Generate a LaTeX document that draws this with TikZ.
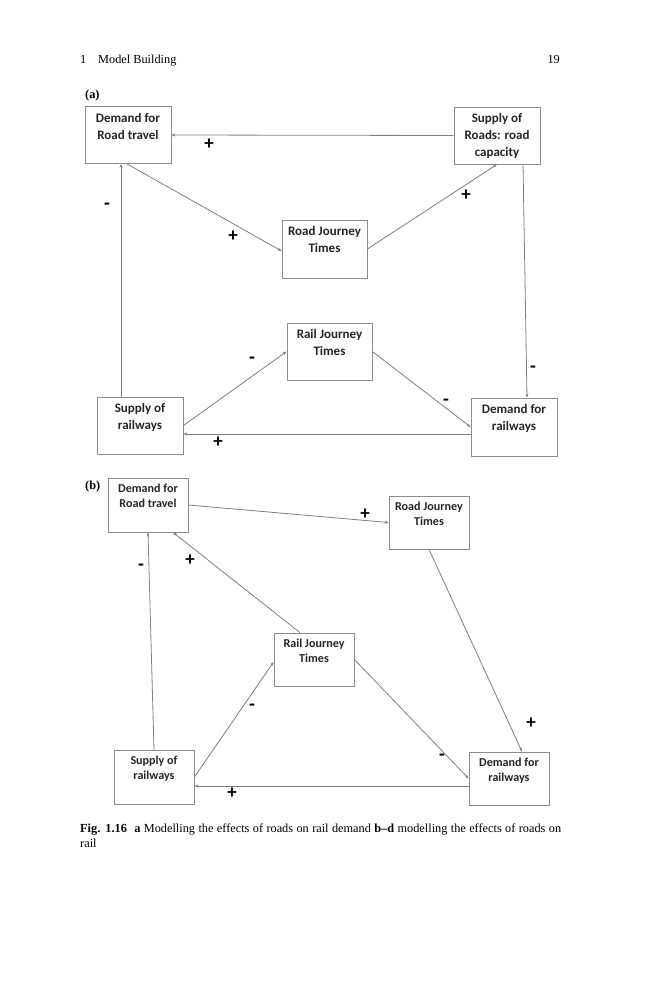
\documentclass[tikz,border=0pt]{standalone}
\usepackage{fontspec}
\setmainfont{Liberation Serif}
\newfontfamily\boxfont{Carlito}
\usetikzlibrary{arrows.meta,calc}
\tikzset{
  boxa/.style={draw=black!45, line width=0.8pt, minimum width=86pt, minimum height=57pt, inner sep=0pt},
  boxb/.style={draw=black!45, line width=0.8pt, minimum width=80pt, minimum height=54pt, inner sep=0pt},
  txta/.style={anchor=north, inner sep=0pt, align=center, text=black!85, font=\boxfont\bfseries\fontsize{13}{17}\selectfont},
  txtb/.style={anchor=north, inner sep=0pt, align=center, text=black!85, font=\boxfont\bfseries\fontsize{12.1}{15}\selectfont},
  conn/.style={draw=black!50, line width=0.8pt, -{Stealth[length=4pt,width=3pt]}},
  sgn/.style={inner sep=0pt, font=\boxfont\bfseries\fontsize{19}{19}\selectfont},
  hdr/.style={inner sep=0pt, anchor=base west, font=\fontsize{12.3}{14}\selectfont},
}
\begin{document}
\begin{tikzpicture}[x=1pt,y=-1pt]
\useasboundingbox[fill=white] (0,0) rectangle (659,1000);
% header
\node[hdr] (h1) at (80,64) {1};
\node[hdr] (h2) at (98,64) {Model Building};
\node[hdr, anchor=base east] (h3) at (560,64) {19};
\node[hdr, font=\bfseries\fontsize{12.3}{14}\selectfont] (pa) at (85,99) {(a)};
% ---------- panel a ----------
\node[boxa] (adr) at (128,135) {};
\node[txta] (tadr) at ([yshift=-7pt]adr.north) {Demand for\\Road travel};
\node[boxa] (asr) at (497,135.5) {};
\node[txta] (tasr) at ([yshift=-7pt]asr.north) {Supply of\\Roads: road\\capacity};
\node[boxa, minimum width=85pt, minimum height=58pt] (arj) at (324.5,249) {};
\node[txta] (tarj) at ([yshift=-7pt]arj.north) {Road Journey\\Times};
\node[boxa, minimum width=85pt] (arl) at (329.5,351.5) {};
\node[txta] (tarl) at ([yshift=-7pt]arl.north) {Rail Journey\\Times};
\node[boxa] (asw) at (140,425.5) {};
\node[txta] (tasw) at ([yshift=-7pt]asw.north) {Supply of\\railways};
\node[boxa, minimum height=58pt] (adw) at (514,427) {};
\node[txta] (tadw) at ([yshift=-7pt]adw.north) {Demand for\\railways};

\draw[conn] (asr.west) -- (adr.east);
\draw[conn] ([xshift=-1pt]adr.south) -- ([yshift=-2pt]arj.west);
\draw[conn] (arj.east) -- (asr.south);
\draw[conn] ([xshift=26pt]asr.south) -- ([xshift=13pt]adw.north);
\draw[conn] ([xshift=-19pt]asw.north) -- ([xshift=-7pt]adr.south);
\draw[conn] (asw.east) -- (arl.west);
\draw[conn] (arl.east) -- (adw.west);
\draw[conn] ([yshift=-7pt]adw.west) -- ([yshift=-8.5pt]asw.east);

\node[sgn] (a1) at (209,144) {+};
\node[sgn] (a2) at (233,236) {+};
\node[sgn] (a3) at (466,195) {+};
\node[sgn] (a4) at (533,369) {-};
\node[sgn] (a5) at (107,206) {-};
\node[sgn] (a6) at (252,360) {-};
\node[sgn] (a7) at (446,402) {-};
\node[sgn] (a8) at (218,442) {+};

% ---------- panel b ----------
\node[hdr, font=\bfseries\fontsize{12.3}{14}\selectfont] (pb) at (85,489) {(b)};
\node[boxb] (bdr) at (148,505) {};
\node[txtb] (tbdr) at ([yshift=-6pt]bdr.north) {Demand for\\Road travel};
\node[boxb, minimum height=53pt] (brj) at (429,522.5) {};
\node[txtb] (tbrj) at ([yshift=-6pt]brj.north) {Road Journey\\Times};
\node[boxb, minimum height=53pt] (brl) at (314,659.5) {};
\node[txtb] (tbrl) at ([yshift=-6pt]brl.north) {Rail Journey\\Times};
\node[boxb] (bsw) at (154,777) {};
\node[txtb] (tbsw) at ([yshift=-6pt]bsw.north) {Supply of\\railways};
\node[boxb, minimum height=53pt] (bdw) at (509,778.5) {};
\node[txtb] (tbdw) at ([yshift=-6pt]bdw.north) {Demand for\\railways};

\draw[conn] (bdr.east) -- (brj.west);
\draw[conn] ([xshift=-14pt]brl.north) -- ([xshift=25pt]bdr.south);
\draw[conn] (bsw.north) -- (bdr.south);
\draw[conn] (brj.south) -- ([xshift=13pt]bdw.north);
\draw[conn] (bsw.east) -- ([yshift=-2.5pt]brl.west);
\draw[conn] (brl.east) -- (bdw.west);
\draw[conn] ([yshift=-7.5pt]bdw.west) -- ([yshift=-9pt]bsw.east);

\node[sgn] (b1) at (365,514) {+};
\node[sgn] (b2) at (190,560) {+};
\node[sgn] (b3) at (141,567) {-};
\node[sgn] (b4) at (531,723) {+};
\node[sgn] (b5) at (252,707) {-};
\node[sgn] (b6) at (442,757) {-};
\node[sgn] (b7) at (232,793) {+};

% caption
\node[hdr] (c1) at (80,832) {\makebox[481pt][s]{\textbf{Fig. 1.16}\hspace{0.6em}\textbf{a} Modelling the effects of roads on rail demand \textbf{b–d} modelling the effects of roads on}};
\node[hdr] (c2) at (80,847) {rail};
\end{tikzpicture}
\end{document}
